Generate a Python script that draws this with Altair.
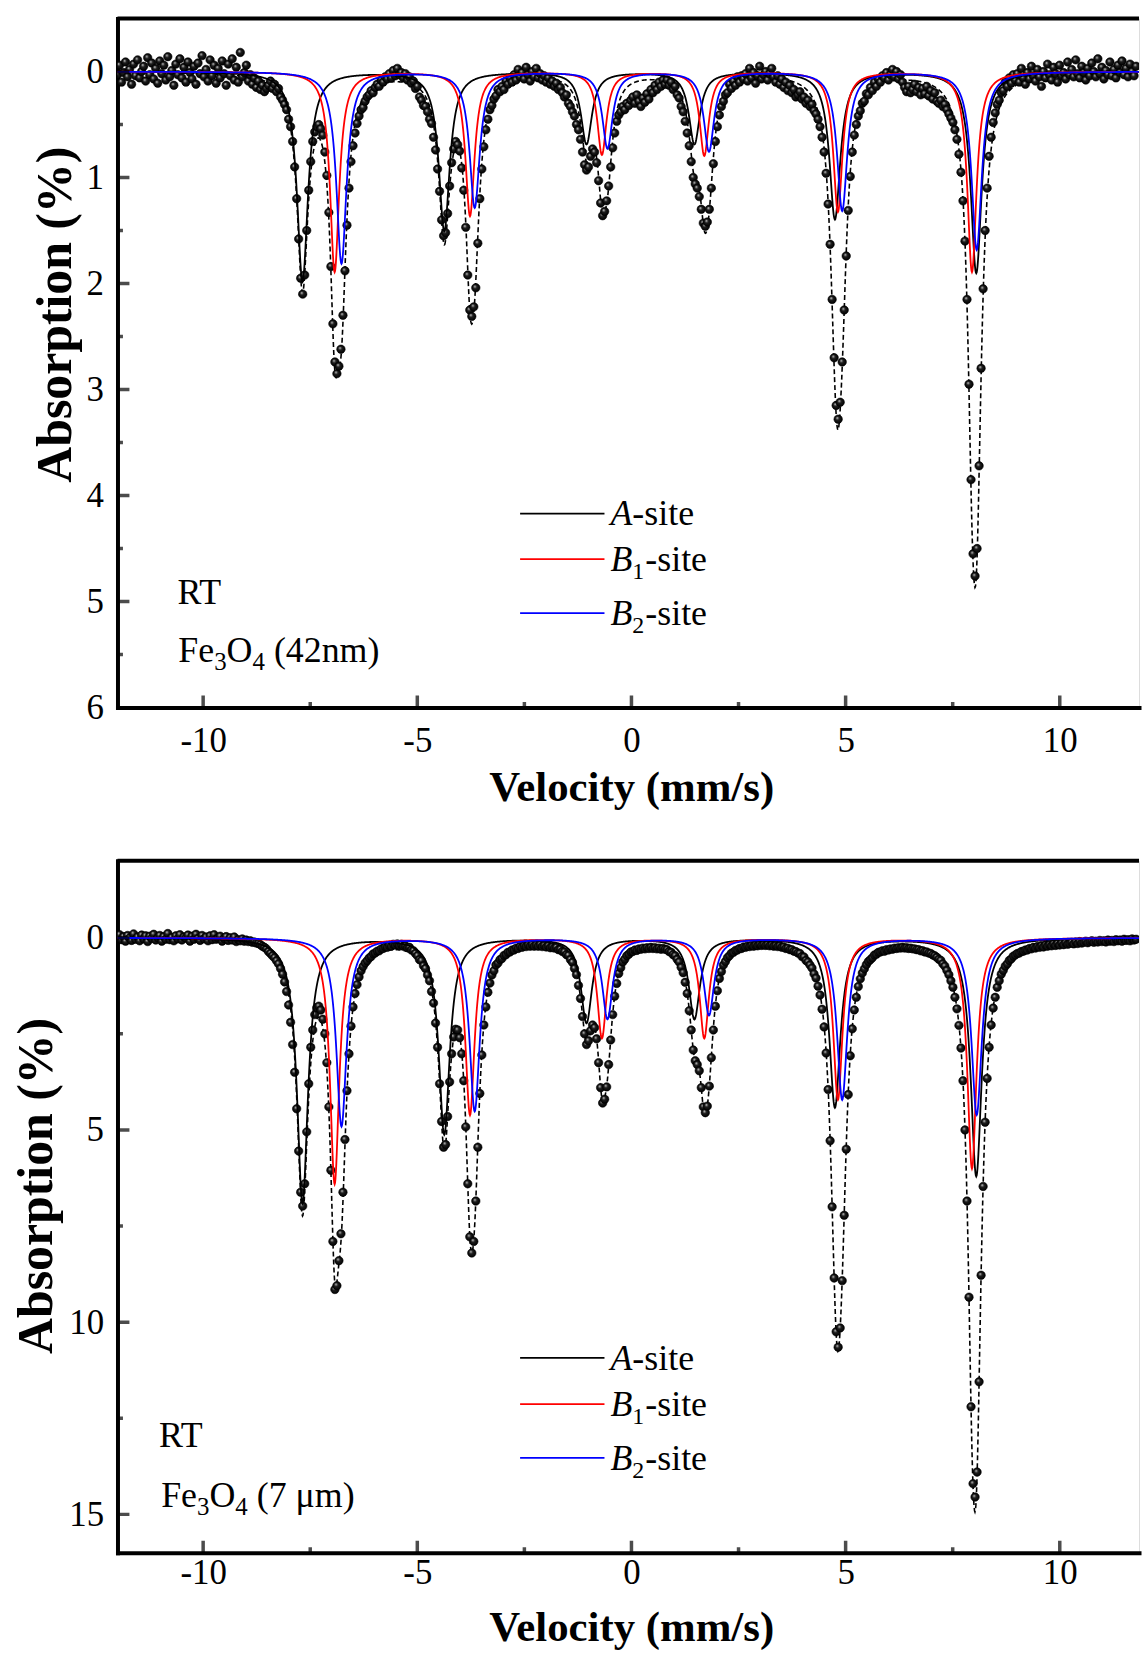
import numpy as np
import pandas as pd
import altair as alt

FONT = "Liberation Serif"

# folded spectra: one value per channel, channels start at -12 mm/s
V_START, V_STEP = -12.0, 0.047
V_MIN, V_MAX = -12.0, 11.85
PLOT_W = 1026

# measured absorption (%) per channel, 42 nm particles
abs_42nm = [
    .03, -.06, .10, .01, -.09, .05, -.02, .12, -.07, .04,
    -.11, .06, .00, -.05, .09, -.13, .03, -.08, .07, -.03,
    .11, -.10, .02, -.06, .08, -.14, .05, -.01, .13, -.07,
    .03, -.12, .06, -.04, .10, -.09, .01, .07, -.05, .12,
    -.08, .02, -.15, .05, -.02, .09, -.11, .04, -.06, .11,
    -.03, .06, -.10, .02, .13, -.07, .04, -.12, .08, -.04,
    .10, -.18, .05, .01, -.06, .09, .03, .12, .06, .15,
    .09, .17, .13, .19, .16,
    .13, .09, .16, .12, .19, .16, .24, .27, .31, .36,
    .45, .52, .66, .90, 1.20, 1.58, 1.95, 2.10, 1.92, 1.50,
    1.12, .85, .66, .57, .52, .50, .54, .60, .76, .98,
    1.33, 1.84, 2.38, 2.74, 2.85, 2.78, 2.62, 2.30, 1.88, 1.45,
    1.10, .85, .70, .58, .49, .42, .36, .34, .28,
    .24, .22, .18, .20, .15, .12, .14, .08, .10, .05,
    .07, .02, .06, -.01, .04, -.03, .03, .01, .06, .02,
    .08, .05, .11, .09, .16, .14,
    .24, .27, .32, .33, .38, .45, .49, .62, .74, .92,
    1.13, 1.40, 1.55, 1.52, 1.34, 1.08, .86, .73, .66, .69,
    .75, .91, 1.12, 1.47, 1.92, 2.25, 2.31, 2.22, 2.04, 1.62,
    1.20, .92, .71, .55, .45, .36, .32, .26, .23, .17,
    .19,
    .14, .17, .09, .12, .06, .10, .03, .08, -.02, .05,
    .01, .07, -.04, .03, .09, .00, .05, -.03, .06, .02,
    .08, .04, .10, .06, .12, .09,
    .14, .11, .17, .15, .20, .24, .22, .30, .33, .38,
    .42, .50, .55, .64, .76, .88, .93, .90, .80, .73,
    .76, .86, 1.03, 1.24, 1.36, 1.32, 1.22, 1.08, .90, .72,
    .58, .47, .41, .38, .33, .36, .30, .32, .27,
    .24, .30, .22, .28, .33, .25, .29, .21, .26, .17,
    .20, .13, .17, .10, .14, .08,
    .12, .08, .13, .10, .17, .14, .22, .25, .33, .38,
    .47, .58, .70, .85, 1.00, 1.06, 1.10, 1.18, 1.30, 1.43,
    1.46, 1.42, 1.30, 1.10, .87, .66, .52, .41, .33, .28,
    .22, .20, .12, .16, .09, .13, .05, .10, .04, .07,
    .02, .09, -.03, .06, .01, .11, .04, -.05, .07, .03,
    .00, .08, .02, -.03, .05, .10, .04, .12, .07, .15,
    .10, .18, .13, .20, .17, .24,
    .22, .19, .26, .24, .30, .27, .33, .31, .37, .40,
    .45, .52, .62, .76, .96, 1.25, 1.63, 2.15, 2.70, 3.15,
    3.28, 3.12, 2.74, 2.25, 1.74, 1.31, .99, .76, .60, .50,
    .42, .37, .30, .28, .21, .22, .15, .18, .10, .14,
    .07, .10, .04,
    .06, .01, .08, .03, -.02, .05, .00, .07, .03, .10,
    .15, .19, .14, .20, .17, .12, .19, .15, .22, .16,
    .21, .14, .23, .18, .26, .20, .28,
    .30, .27, .33, .31, .36, .40, .44, .48, .55, .64,
    .78, .95, 1.22, 1.60, 2.15, 2.95, 3.85, 4.55, 4.76, 4.50,
    3.72, 2.80, 2.05, 1.50, 1.10, .80, .62, .48, .39, .31,
    .27, .20, .18, .10, .14, .06, .11, .03,
    .08, .02, .10, -.03, .06, .12, .01, .07, -.05, .04,
    .09, -.02, .05, .14, .00, .06, -.07, .03, .08, -.04,
    .02, .10, -.06, .04, .01, .07, -.09, .03, -.02, .05,
    -.11, .02, .06, -.05, .01, .08, -.03, .04, -.08, .00,
    .05, -.12, .02, -.04, .07, -.01, .03, -.09, .04, -.02,
    .06, -.06, .01, -.10, .03, -.03, .05, -.07, .00, .04,
    -.05,
]

# measured absorption (%) per channel, 7 um particles
abs_7um = [
    .02, -.08, .05, -.03, .09, -.06, .01, .07, -.10, .04,
    -.02, .08, -.07, .03, -.05, .10, -.04, .02, -.09, .06,
    .00, -.06, .09, -.03, .04, -.11, .05, -.01, .08, -.05,
    .03, -.08, .06, -.02, .01, -.07, .09, -.04, .04, -.09,
    .02, .07, -.06, .03, -.02, .08, -.05, .05, -.08, .04,
    .01, -.04, .09, .02, -.03, .07, .00, .06, -.02, .10,
    .05, .08, .03, .09, .06, .10, .08, .12, .11, .14,
    .15, .18, .22, .25, .29,
    .36, .41, .47, .52, .60, .68, .80, .95, 1.15, 1.40,
    1.75, 2.20, 2.78, 3.50, 4.45, 5.55, 6.62, 6.98, 6.40, 5.05,
    3.80, 2.85, 2.40, 2.00, 1.82, 1.78, 1.88, 2.12, 2.50, 3.25,
    4.40, 6.05, 7.90, 9.15, 9.05, 8.40, 7.70, 6.62, 5.25, 3.98,
    3.02, 2.30, 1.80, 1.45, 1.22, 1.02, .86, .75, .66,
    .60, .53, .49, .42, .40, .35, .34, .29, .28, .24,
    .25, .20, .22, .17, .19, .16, .20, .17, .22, .21,
    .26, .25, .32, .34, .41, .47,
    .57, .60, .73, .80, .97, 1.12, 1.40, 1.70, 2.22, 2.85,
    3.80, 4.78, 5.45, 5.38, 4.65, 3.75, 3.02, 2.58, 2.38, 2.40,
    2.60, 3.02, 3.72, 4.92, 6.40, 7.78, 8.20, 7.90, 6.85, 5.45,
    4.05, 3.05, 2.27, 1.80, 1.42, 1.18, .97, .86, .71, .66,
    .57,
    .54, .46, .44, .38, .37, .32, .32, .27, .28, .23,
    .25, .21, .23, .19, .22, .18, .22, .19, .22, .18,
    .23, .20, .24, .21, .26, .24,
    .27, .25, .31, .30, .36, .37, .44, .46, .57, .64,
    .80, .96, 1.24, 1.58, 2.05, 2.50, 2.78, 2.68, 2.42, 2.27,
    2.34, 2.63, 3.25, 3.90, 4.30, 4.20, 3.88, 3.30, 2.66, 2.00,
    1.52, 1.19, .93, .78, .63, .56, .47, .43, .37,
    .36, .32, .33, .29, .30, .27, .29, .26, .28, .25,
    .28, .26, .29, .27, .30, .28,
    .30, .31, .36, .38, .44, .47, .56, .63, .77, .91,
    1.16, 1.45, 1.90, 2.40, 2.92, 3.20, 3.30, 3.46, 3.90, 4.40,
    4.55, 4.38, 3.86, 3.12, 2.40, 1.78, 1.38, 1.06, .88, .71,
    .62, .52, .47, .40, .38, .33, .32, .28, .28, .24,
    .25, .22, .23, .20, .22, .19, .21, .18, .20, .18,
    .20, .18, .21, .19, .22, .20, .23, .21, .25, .24,
    .28, .27, .31, .31, .35, .36,
    .40, .41, .49, .50, .59, .63, .71, .79, .94, 1.05,
    1.26, 1.49, 1.86, 2.32, 3.00, 3.95, 5.28, 7.00, 8.85, 10.25,
    10.65, 10.15, 8.92, 7.22, 5.50, 4.08, 3.07, 2.37, 1.88, 1.55,
    1.27, 1.07, .92, .81, .70, .62, .57, .52, .45, .43,
    .38, .37, .34,
    .35, .31, .32, .29, .30, .27, .28, .26, .27, .25,
    .27, .26, .28, .27, .29, .29, .31, .31, .34, .34,
    .37, .37, .40, .41, .45, .47, .51,
    .56, .59, .68, .74, .85, .96, 1.12, 1.29, 1.55, 1.85,
    2.28, 2.87, 3.72, 5.00, 6.85, 9.35, 12.20, 14.20, 14.55, 13.90,
    11.55, 8.78, 6.47, 4.80, 3.66, 2.85, 2.27, 1.83, 1.55, 1.29,
    1.12, .95, .85, .74, .68, .59, .55, .48,
    .45, .41, .40, .36, .35, .32, .32, .28, .29, .25,
    .27, .23, .25, .21, .24, .19, .22, .18, .21, .16,
    .20, .15, .19, .14, .18, .13, .17, .15, .12, .16,
    .11, .15, .10, .14, .12, .09, .13, .10, .08, .12,
    .09, .11, .07, .10, .08, .11, .06, .09, .07, .10,
    .05, .08, .06, .09, .04, .07, .05, .08, .03, .06,
    .04,
]

# Lorentzian sextet fit: line positions (mm/s), half widths (mm/s), depths (%)
SITES = ["A", "B1", "B2"]
SITE_COLORS = {"A": "#000000", "B1": "#ff0000", "B2": "#0000ff"}
line_pos = {
    "A":  [-7.68, -4.37, -1.05, 1.47, 4.75, 8.05],
    "B1": [-6.93, -3.77, -0.69, 1.70, 4.82, 7.95],
    "B2": [-6.77, -3.66, -0.56, 1.81, 4.92, 8.06],
}
line_hwhm = {"A": 0.155, "B1": 0.13, "B2": 0.145}
depth_42nm = {
    "A":  [1.98, 1.50, 0.68, 0.68, 1.39, 1.90],
    "B1": [1.89, 1.36, 0.78, 0.79, 1.32, 1.89],
    "B2": [1.81, 1.28, 0.72, 0.75, 1.31, 1.68],
}
depth_7um = {
    "A":  [6.9, 5.1, 2.2, 2.1, 4.4, 6.2],
    "B1": [6.4, 4.6, 2.6, 2.6, 4.2, 6.0],
    "B2": [4.9, 4.5, 2.1, 2.0, 4.2, 4.6],
}

x_major = [-10, -5, 0, 5, 10]
x_minor = [-7.5, -2.5, 2.5, 7.5]

v_fit = np.round(np.arange(V_MIN, V_MAX + 1e-9, 0.01), 3)


def site_curve(site, depths):
    pos = np.asarray(line_pos[site])[:, None]
    dep = np.asarray(depths[site])[:, None]
    prof = dep / (1.0 + ((v_fit[None, :] - pos) / line_hwhm[site]) ** 2)
    return prof.sum(axis=0)


# shaded black ball for the measured points
BALL = {
    "gradient": "radial",
    "x1": 0.36, "y1": 0.32, "r1": 0.0,
    "x2": 0.5, "y2": 0.5, "r2": 0.5,
    "stops": [
        {"offset": 0.0, "color": "#f4f4f4"},
        {"offset": 0.16, "color": "#8a8a8a"},
        {"offset": 0.42, "color": "#1e1e1e"},
        {"offset": 1.0, "color": "#000000"},
    ],
}


def text_layer(rows, X, Y, **style):
    df = pd.DataFrame(rows, columns=["v", "a", "t"])
    return alt.Chart(df).mark_text(
        font=FONT, color="black", align="left", baseline="alphabetic", **style
    ).encode(x=X, y=Y, text="t:N")


def panel(cfg):
    y0, y1 = cfg["y_domain"]
    x_axis = alt.Axis(
        values=x_major, labelExpr="'' + datum.value", ticks=False, grid=False,
        domainWidth=4, domainColor="black", domainCap="square",
        labelFont=FONT, labelFontSize=35, labelColor="black",
        labelPadding=cfg["xlabel_pad"], labelFlush=False,
        title="Velocity (mm/s)", titleFont=FONT, titleFontSize=43,
        titleFontWeight="bold", titleColor="black",
        titleX=516, titleY=cfg["xtitle_y"], titleAlign="center",
        titleBaseline="middle",
    )
    y_axis = alt.Axis(
        values=cfg["y_labels"], labelExpr="'' + datum.value", ticks=False,
        grid=False, domainWidth=4, domainColor="black", domainCap="square",
        labelFont=FONT, labelFontSize=35, labelColor="black", labelPadding=14,
        title="Absorption (%)", titleFont=FONT, titleFontSize=50,
        titleFontWeight="bold", titleColor="black", titleAngle=270,
        titleX=cfg["ytitle"][0], titleY=cfg["ytitle"][1],
        titleAlign="center", titleBaseline="middle",
    )
    X = alt.X("v:Q", scale=alt.Scale(domain=[V_MIN, V_MAX], nice=False, zero=False),
              axis=x_axis)
    Y = alt.Y("a:Q", scale=alt.Scale(domain=[y0, y1], reverse=True, nice=False,
                                     zero=False), axis=y_axis)

    vals = np.asarray(cfg["values"], dtype=float)
    pts = pd.DataFrame({"v": np.round(V_START + V_STEP * np.arange(len(vals)), 3),
                        "a": vals})
    pts = pts[pts.v <= V_MAX]

    comps = {s: site_curve(s, cfg["depths"]) for s in SITES}
    total = comps["A"] + comps["B1"] + comps["B2"]

    def curve_df(c):
        return pd.DataFrame({"v": v_fit, "a": np.round(c, 4)})

    layers = []
    layers.append(
        alt.Chart(curve_df(total)).mark_line(
            color="black", strokeWidth=1.6, strokeDash=[5, 3], clip=True
        ).encode(x=X, y=Y)
    )
    layers.append(
        alt.Chart(pts).mark_circle(
            size=72, fill=BALL, stroke="#000000", strokeWidth=0.6, opacity=1,
            clip=True
        ).encode(x=X, y=Y)
    )
    for s in SITES:
        layers.append(
            alt.Chart(curve_df(comps[s])).mark_line(
                color=SITE_COLORS[s], strokeWidth=1.8, clip=True
            ).encode(x=X, y=Y)
        )

    # frame line along the top of the plot
    layers.append(
        alt.Chart(pd.DataFrame({"a": [y0]})).mark_rule(
            color="black", strokeWidth=4
        ).encode(y=Y)
    )

    # inward ticks
    def ticks(df, orient, size):
        return alt.Chart(df).mark_tick(
            orient=orient, size=size, thickness=3.5, color="black", clip=True
        ).encode(x=X, y=Y)

    layers.append(ticks(pd.DataFrame({"v": x_major, "a": [y1] * len(x_major)}),
                        "vertical", 24))
    layers.append(ticks(pd.DataFrame({"v": x_minor, "a": [y1] * len(x_minor)}),
                        "vertical", 11))
    layers.append(ticks(pd.DataFrame({"v": [V_MIN] * len(cfg["y_major"]),
                                      "a": cfg["y_major"]}), "horizontal", 24))
    layers.append(ticks(pd.DataFrame({"v": [V_MIN] * len(cfg["y_minor"]),
                                      "a": cfg["y_minor"]}), "horizontal", 11))

    # legend for the three sextets
    la = cfg["legend_a"]
    lx0, lx1 = -2.6, -0.63
    leg = pd.DataFrame({"v": [lx0] * 3, "v2": [lx1] * 3, "a": la, "site": SITES})
    layers.append(
        alt.Chart(leg).mark_rule(strokeWidth=1.8).encode(
            x=X, x2=alt.X2("v2:Q"), y=Y,
            color=alt.Color("site:N", scale=alt.Scale(
                domain=SITES, range=[SITE_COLORS[s] for s in SITES]), legend=None),
        )
    )
    layers.append(text_layer([(lx1, la[0], "A"), (lx1, la[1], "B"), (lx1, la[2], "B")],
                             X, Y, fontSize=36, fontStyle="italic", dx=6, dy=12))
    layers.append(text_layer([(lx1, la[1], "1"), (lx1, la[2], "2")],
                             X, Y, fontSize=24, dx=28, dy=20))
    layers.append(text_layer([(lx1, la[0], "-site")], X, Y, fontSize=36, dx=28, dy=12))
    layers.append(text_layer([(lx1, la[1], "-site"), (lx1, la[2], "-site")],
                             X, Y, fontSize=36, dx=41, dy=12))

    # sample annotation
    rv, ra = cfg["rt"]
    sv, sa = cfg["sample"]
    layers.append(text_layer([(rv, ra, "RT"), (sv, sa, "Fe")], X, Y, fontSize=36))
    layers.append(text_layer([(sv, sa, "3")], X, Y, fontSize=25, dx=36, dy=8))
    layers.append(text_layer([(sv, sa, "O")], X, Y, fontSize=36, dx=48.5))
    layers.append(text_layer([(sv, sa, "4")], X, Y, fontSize=25, dx=74.5, dy=8))
    layers.append(text_layer([(sv, sa, cfg["sample_tail"])], X, Y, fontSize=36, dx=96))

    return alt.layer(*layers).properties(width=PLOT_W, height=cfg["height"])


top_cfg = {
    "values": abs_42nm, "depths": depth_42nm,
    "y_domain": [-0.5, 6], "height": 692,
    "y_labels": [0, 1, 2, 3, 4, 5, 6],
    "y_major": [0, 1, 2, 3, 4, 5], "y_minor": [0.5, 1.5, 2.5, 3.5, 4.5, 5.5],
    "ytitle": (-62, 297), "xtitle_y": 80, "xlabel_pad": 16,
    "rt": (-10.6, 5.02), "sample": (-10.58, 5.57), "sample_tail": "(42nm)",
    "legend_a": [4.17, 4.60, 5.11],
}
bottom_cfg = {
    "values": abs_7um, "depths": depth_7um,
    "y_domain": [-2, 16], "height": 695,
    "y_labels": [0, 5, 10, 15],
    "y_major": [0, 5, 10, 15], "y_minor": [2.5, 7.5, 12.5],
    "ytitle": (-81, 326), "xtitle_y": 75, "xlabel_pad": 3,
    "rt": (-11.03, 13.26), "sample": (-10.98, 14.8), "sample_tail": "(7 μm)",
    "legend_a": [10.93, 12.13, 13.53],
}

chart = alt.vconcat(panel(top_cfg), panel(bottom_cfg), spacing=48).properties(
    padding={"left": 11, "top": 12, "right": 0, "bottom": 0},
    background="white",
).configure_view(stroke=None).configure(font=FONT)

chart.save("out.html", embed_options={"renderer": "svg", "actions": False})
